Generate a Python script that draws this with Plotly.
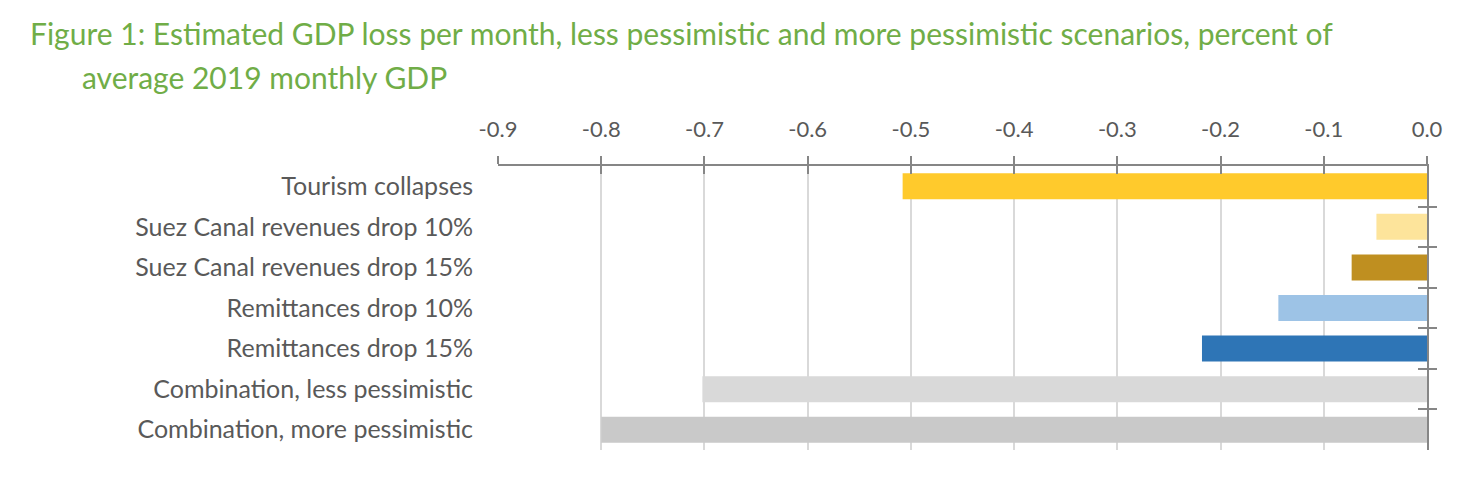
import plotly.graph_objects as go

categories = [
    "Tourism collapses",
    "Suez Canal revenues drop 10%",
    "Suez Canal revenues drop 15%",
    "Remittances drop 10%",
    "Remittances drop 15%",
    "Combination, less pessimistic",
    "Combination, more pessimistic",
]
gdp_loss = [-0.508, -0.049, -0.073, -0.144, -0.218, -0.702, -0.800]
bar_colors = ["#FFCA2C", "#FDE49B", "#BF8F20", "#9DC3E6", "#2E75B6", "#D9D9D9", "#C9C9C9"]
x_ticks = [-0.9, -0.8, -0.7, -0.6, -0.5, -0.4, -0.3, -0.2, -0.1, 0.0]
x_ticktext = ["-0.9", "-0.8", "-0.7", "-0.6", "-0.5", "-0.4", "-0.3", "-0.2", "-0.1", "0.0"]

FONT = "Lato"
GREY = "#595959"
AXIS = "#868686"

n = len(categories)
boundaries = [i + 0.5 for i in range(n - 1)]

# the page body has an 8px margin, so the figure is 16px smaller than the window
W, H = 1464, 466
PLOT_W, PLOT_H = 929, 284

fig = go.Figure(
    go.Bar(
        x=gdp_loss,
        y=categories,
        orientation="h",
        marker_color=bar_colors,
        marker_line_width=0,
        hoverinfo="x+y",
    )
)

fig.update_layout(
    width=W,
    height=H,
    margin=dict(l=490, r=45, t=158, b=24),
    plot_bgcolor="white",
    paper_bgcolor="white",
    showlegend=False,
    bargap=0.36,
    font=dict(family=FONT, color=GREY, size=22),
    xaxis=dict(
        range=[-0.9, 0.0],
        side="top",
        tickvals=x_ticks,
        ticktext=x_ticktext,
        showgrid=True,
        gridcolor="#D9D9D9",
        gridwidth=2,
        zeroline=False,
        showline=True,
        linecolor=AXIS,
        linewidth=2,
        ticks="outside",
        ticklen=8,
        tickwidth=2,
        tickcolor=AXIS,
        tickfont=dict(size=22, color=GREY),
        ticklabelstandoff=10,
    ),
    xaxis2=dict(
        overlaying="x",
        matches="x",
        side="top",
        anchor="y",
        tickvals=x_ticks,
        showticklabels=False,
        showgrid=False,
        zeroline=False,
        ticks="inside",
        ticklen=8,
        tickwidth=2,
        tickcolor=AXIS,
    ),
    yaxis=dict(
        type="category",
        categoryorder="array",
        categoryarray=categories,
        autorange="reversed",
        showgrid=False,
        zeroline=False,
        showline=False,
        ticks="",
        tickfont=dict(size=25, color=GREY),
        ticklabelstandoff=24,
    ),
    yaxis2=dict(
        overlaying="y",
        side="right",
        anchor="x",
        range=[n - 0.5, -0.5],
        tickvals=boundaries,
        showticklabels=False,
        showgrid=False,
        zeroline=False,
        showline=True,
        linecolor=AXIS,
        linewidth=2,
        ticks="outside",
        ticklen=8,
        tickwidth=2,
        tickcolor=AXIS,
    ),
    yaxis3=dict(
        overlaying="y",
        side="right",
        anchor="x",
        range=[n - 0.5, -0.5],
        tickvals=boundaries,
        showticklabels=False,
        showgrid=False,
        zeroline=False,
        ticks="inside",
        ticklen=9,
        tickwidth=2,
        tickcolor=AXIS,
    ),
)

# invisible traces so the overlay axes get drawn
fig.add_trace(go.Scatter(x=[-0.9], y=[0], xaxis="x2", yaxis="y2", mode="markers",
                         marker_opacity=0, hoverinfo="skip"))
fig.add_trace(go.Scatter(x=[-0.9], y=[0], xaxis="x", yaxis="y3", mode="markers",
                         marker_opacity=0, hoverinfo="skip"))

title_font = dict(family=FONT, size=30, color="#70AD47")
fig.add_annotation(
    text="Figure 1: Estimated GDP loss per month, less pessimistic and more pessimistic scenarios, percent of",
    xref="paper", yref="paper", x=(28 - 498) / PLOT_W, y=1 + (166 - 33) / PLOT_H,
    xanchor="left", yanchor="middle", showarrow=False, font=title_font,
)
fig.add_annotation(
    text="average 2019 monthly GDP",
    xref="paper", yref="paper", x=(80 - 498) / PLOT_W, y=1 + (166 - 76.5) / PLOT_H,
    xanchor="left", yanchor="middle", showarrow=False, font=title_font,
)

fig.write_html("out.html")
